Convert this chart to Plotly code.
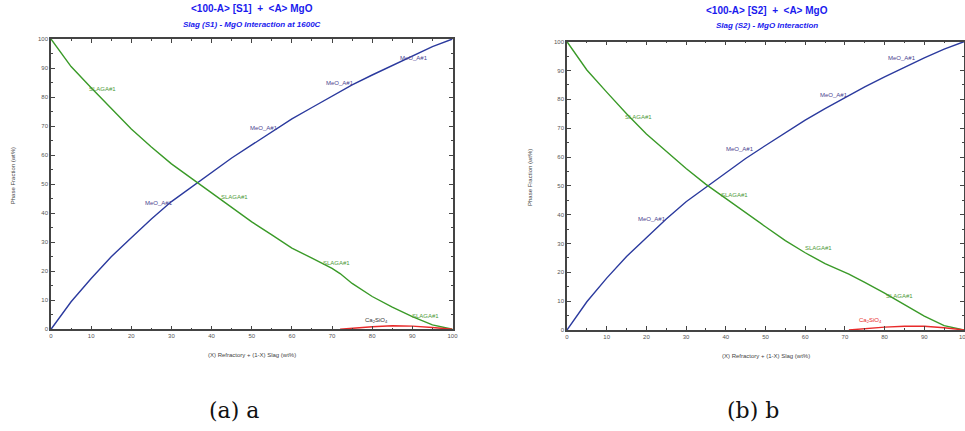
import plotly.graph_objects as go

# ---------------- data ----------------
x_grid = [0, 5, 10, 15, 20, 25, 30, 35, 40, 45, 50, 55, 60, 65, 70, 75, 80, 85, 90, 95, 100]

s1_mgo = [0, 9.5, 17.5, 25, 31.5, 38, 44, 49, 54, 59, 63.5, 68, 72.5, 76.4, 80.3, 84.2, 87.6, 90.9, 94.2, 97.4, 100]
s1_slag_x = [0, 5, 10, 15, 20, 25, 30, 35, 40, 45, 50, 55, 60, 65, 70, 72, 75, 80, 85, 90, 95, 100]
s1_slag = [100, 90.5, 83.2, 76, 69, 62.8, 57, 52, 47, 41.8, 37, 32.5, 28, 24.5, 21, 19.2, 15.8, 11.3, 7.6, 4.4, 1.5, 0]
s1_c2s_x = [72, 75, 80, 85, 90, 95, 100]
s1_c2s = [0, 0.4, 0.9, 1.2, 1.1, 0.6, 0]

s2_mgo = [0, 9.8, 18, 25.5, 32, 38.5, 44.5, 49.5, 54.5, 59.5, 64, 68.5, 72.8, 76.8, 80.6, 84.3, 87.8, 91.2, 94.4, 97.4, 100]
s2_slag_x = [0, 5, 10, 15, 20, 25, 30, 35, 40, 45, 50, 55, 60, 65, 70, 71, 75, 80, 85, 90, 95, 100]
s2_slag = [100, 90.2, 82.5, 75, 68, 62, 56, 50.5, 45.5, 40.5, 35.8, 31, 26.8, 23, 20, 19.4, 16.5, 12.8, 8.8, 4.8, 1.5, 0]
s2_c2s_x = [71, 75, 80, 85, 90, 95, 100]
s2_c2s = [0, 0.5, 1.0, 1.3, 1.3, 0.8, 0]

titles = ["&lt;100-A&gt; [S1] &nbsp;+&nbsp; &lt;A&gt; MgO", "&lt;100-A&gt; [S2] &nbsp;+&nbsp; &lt;A&gt; MgO"]
subtitles = ["Slag (S1) - MgO Interaction at 1600C", "Slag (S2) - MgO Interaction"]
captions = ["(a) a", "(b) b"]
x_title = "(X) Refractory + (1-X) Slag (wt%)"
y_title = "Phase Fraction (wt%)"

# curve labels (x, y)
s1_labels_mgo = [(27, 43.5), (53, 69.3), (72, 84.7), (90.5, 93.6)]
s1_labels_slag = [(12.8, 82.9), (45.8, 45.5), (71.2, 22.7), (93.2, 4.7)]
s1_label_c2s = (81, 3.2)
s2_labels_mgo = [(21.5, 38.5), (43.7, 62.8), (67.2, 81.5), (84.5, 94.2)]
s2_labels_slag = [(18, 74), (42.2, 46.8), (63.4, 28.4), (83.7, 11.9)]
s2_label_c2s = (76.5, 3.2)

BLUE = "#2b3a9e"
GREEN = "#3a9a28"
RED = "#e82a2a"
MEO_TXT = "#4b3f8f"
SLAG_TXT = "#4f9a3a"
TITLE_BLUE = "#1a1aee"

fig = go.Figure()

panels = [
    dict(xa="x", ya="y", mgo=s1_mgo, sx=s1_slag_x, sy=s1_slag, cx=s1_c2s_x, cy=s1_c2s,
         lm=s1_labels_mgo, ls=s1_labels_slag, lc=s1_label_c2s, ccol="#333333"),
    dict(xa="x2", ya="y2", mgo=s2_mgo, sx=s2_slag_x, sy=s2_slag, cx=s2_c2s_x, cy=s2_c2s,
         lm=s2_labels_mgo, ls=s2_labels_slag, lc=s2_label_c2s, ccol=RED),
]

annotations = []
for p in panels:
    fig.add_trace(go.Scatter(x=x_grid, y=p["mgo"], mode="lines", line=dict(color=BLUE, width=1.4),
                             xaxis=p["xa"], yaxis=p["ya"], showlegend=False, hoverinfo="skip"))
    fig.add_trace(go.Scatter(x=p["sx"], y=p["sy"], mode="lines", line=dict(color=GREEN, width=1.4),
                             xaxis=p["xa"], yaxis=p["ya"], showlegend=False, hoverinfo="skip"))
    fig.add_trace(go.Scatter(x=p["cx"], y=p["cy"], mode="lines", line=dict(color=RED, width=1.4),
                             xaxis=p["xa"], yaxis=p["ya"], showlegend=False, hoverinfo="skip"))
    for (lx, ly) in p["lm"]:
        annotations.append(dict(x=lx, y=ly, xref=p["xa"], yref=p["ya"], text="MeO_A#1", showarrow=False,
                                font=dict(family="Arial", size=6, color=MEO_TXT)))
    for (lx, ly) in p["ls"]:
        annotations.append(dict(x=lx, y=ly, xref=p["xa"], yref=p["ya"], text="SLAGA#1", showarrow=False,
                                font=dict(family="Arial", size=6, color=SLAG_TXT)))
    annotations.append(dict(x=p["lc"][0], y=p["lc"][1], xref=p["xa"], yref=p["ya"],
                            text="Ca<sub>2</sub>SiO<sub>4</sub>", showarrow=False,
                            font=dict(family="Arial", size=6, color=p["ccol"])))

W, H = 965, 431
def px(x): return x / W
def py(y): return 1 - y / H

# titles
title_pos = [(252, 8, 24), (766.5, 10, 25.5)]
for t, s, (cx, ty, sy) in zip(titles, subtitles, title_pos):
    annotations.append(dict(x=px(cx), y=py(ty), xref="paper", yref="paper", text="<b>%s</b>" % t,
                            showarrow=False, font=dict(family="Arial", size=10, color=TITLE_BLUE),
                            xanchor="center", yanchor="middle"))
    annotations.append(dict(x=px(cx), y=py(sy), xref="paper", yref="paper", text="<b><i>%s</i></b>" % s,
                            showarrow=False, font=dict(family="Arial", size=8, color=TITLE_BLUE),
                            xanchor="center", yanchor="middle"))

# axis titles
for cx, cy in [(251.7, 355), (766, 355.7)]:
    annotations.append(dict(x=px(cx), y=py(cy), xref="paper", yref="paper", text=x_title, showarrow=False,
                            font=dict(family="Arial", size=6, color="#444444"), xanchor="center", yanchor="middle"))
for cx, cy in [(13.3, 176), (530, 178)]:
    annotations.append(dict(x=px(cx), y=py(cy), xref="paper", yref="paper", text=y_title, showarrow=False,
                            textangle=-90, font=dict(family="Arial", size=6, color="#444444"),
                            xanchor="center", yanchor="middle"))

# captions
for c, cx in zip(captions, [233.5, 753]):
    annotations.append(dict(x=px(cx), y=py(410), xref="paper", yref="paper", text=c, showarrow=False,
                            font=dict(family="DejaVu Serif", size=22, color="#111111"),
                            xanchor="center", yanchor="middle"))

def axis(domain, anchor):
    return dict(domain=domain, anchor=anchor, range=[0, 100], dtick=10, tick0=0,
                showgrid=False, zeroline=False, showline=True, linecolor="#444444", linewidth=1.5,
                mirror="ticks", ticks="inside", ticklen=4, tickcolor="#444444", tickwidth=1,
                minor=dict(dtick=5, ticks="inside", ticklen=2, tickcolor="#444444"),
                tickfont=dict(family="Arial", size=6, color="#555555"), fixedrange=True,
                automargin=False, ticklabeloverflow="allow")

fig.update_layout(
    width=W, height=H, margin=dict(l=0, r=0, t=0, b=0, autoexpand=False),
    paper_bgcolor="white", plot_bgcolor="white",
    xaxis=axis([px(51), px(452.5)], "y"),
    yaxis=axis([py(329.3), py(39)], "x"),
    xaxis2=axis([px(567), px(964)], "y2"),
    yaxis2=axis([py(330), py(41.7)], "x2"),
    annotations=annotations,
)

fig.write_html("out.html", config={"displayModeBar": False},
               post_script="document.body.style.margin='0';document.body.style.overflow='hidden';")
